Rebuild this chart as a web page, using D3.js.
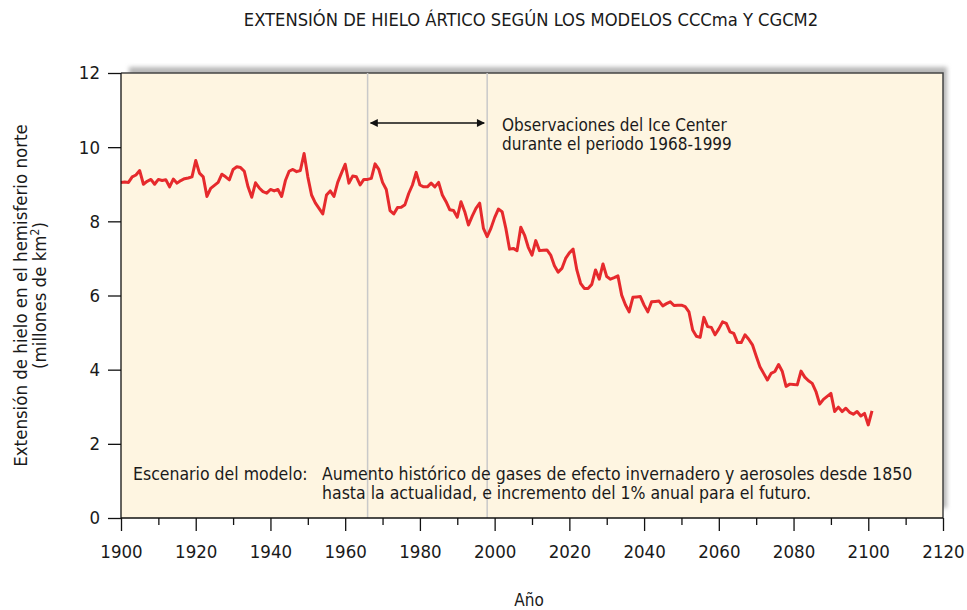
<!DOCTYPE html>
<html>
<head>
<meta charset="utf-8">
<script src="https://cdn.jsdelivr.net/npm/d3@7"></script>
<style>
  body { margin: 0; background: #fff; }
  svg text { font-family: "DejaVu Sans Condensed", "DejaVu Sans", sans-serif; fill: #1a1a1a; }
</style>
</head>
<body>
<svg id="chart" width="967" height="610"></svg>
<script>
// annual values (millones de km2)
var years = d3.range(1900, 2102);
var extent = [
  9.05, 9.06, 9.05, 9.20, 9.25, 9.37, 9.00, 9.08, 9.13, 9.00,
  9.13, 9.10, 9.12, 8.93, 9.14, 9.03, 9.10, 9.15, 9.17, 9.20,
  9.64, 9.30, 9.20, 8.67, 8.89, 8.97, 9.05, 9.27, 9.20, 9.12,
  9.40, 9.47, 9.45, 9.35, 8.93, 8.65, 9.04, 8.90, 8.80, 8.76,
  8.86, 8.82, 8.86, 8.67, 9.10, 9.35, 9.40, 9.34, 9.37, 9.83,
  9.20, 8.71, 8.50, 8.35, 8.20, 8.71, 8.82, 8.67, 9.05, 9.30,
  9.54, 9.03, 9.22, 9.20, 8.98, 9.13, 9.13, 9.16, 9.55, 9.40,
  9.05, 8.86, 8.29, 8.20, 8.37, 8.38, 8.45, 8.75, 8.98, 9.32,
  8.98, 8.93, 8.93, 9.03, 8.93, 9.05, 8.71, 8.53, 8.31, 8.29,
  8.11, 8.53, 8.26, 7.90, 8.14, 8.35, 8.49, 7.81, 7.59, 7.81,
  8.10, 8.33, 8.26, 7.81, 7.25, 7.27, 7.21, 7.84, 7.63, 7.30,
  7.09, 7.48, 7.21, 7.22, 7.23, 7.09, 6.80, 6.63, 6.73, 7.00,
  7.15, 7.25, 6.69, 6.33, 6.19, 6.19, 6.30, 6.69, 6.44, 6.85,
  6.51, 6.44, 6.48, 6.53, 6.01, 5.75, 5.56, 5.95, 5.96, 5.97,
  5.74, 5.56, 5.83, 5.84, 5.85, 5.72, 5.78, 5.83, 5.73, 5.74,
  5.74, 5.70, 5.56, 5.07, 4.90, 4.87, 5.41, 5.16, 5.14, 4.94,
  5.10, 5.29, 5.25, 5.02, 4.98, 4.73, 4.73, 4.94, 4.82, 4.67,
  4.37, 4.08, 3.90, 3.72, 3.90, 3.95, 4.14, 3.95, 3.55, 3.61,
  3.60, 3.59, 3.96, 3.80, 3.70, 3.63, 3.41, 3.07, 3.20, 3.28,
  3.36, 2.87, 2.99, 2.87, 2.96, 2.85, 2.80, 2.87, 2.75, 2.82,
  2.51, 2.89
];
var yearTicks = d3.range(1900, 2121, 20);
var minorTicks = d3.range(1910, 2120, 20);
var valueTicks = [0, 2, 4, 6, 8, 10, 12];
var obsPeriod = [1966, 1998];

(function() {
  'use strict';

  var svg = d3.select("#chart");
  var pLeft = 121, pRight = 943, pTop = 73, pBottom = 518;

  var x = d3.scaleLinear().domain([1900, 2120]).range([pLeft, pRight]);
  var y = d3.scaleLinear().domain([0, 12]).range([pBottom, pTop]);

  var defs = svg.append("defs");
  defs.append("filter")
      .attr("id", "blur")
    .append("feGaussianBlur")
      .attr("stdDeviation", 2);

  // shadow behind the plot box
  svg.append("rect")
      .attr("x", pLeft + 8)
      .attr("y", pTop - 6)
      .attr("width", pRight - pLeft - 4)
      .attr("height", pBottom - pTop - 4)
      .style("fill", "#b8b8b8")
      .attr("filter", "url(#blur)");

  svg.append("rect")
      .attr("x", pLeft)
      .attr("y", pTop)
      .attr("width", pRight - pLeft)
      .attr("height", pBottom - pTop)
      .style("fill", "#fef5e1");

  // frame top and right
  svg.append("path")
      .attr("d", "M" + pLeft + "," + pTop + "H" + pRight + "V" + pBottom)
      .style("fill", "none")
      .style("stroke", "#444")
      .style("stroke-width", 1.5);

  // observation period lines
  svg.selectAll(".obs")
      .data(obsPeriod)
    .enter().append("line")
      .attr("class", "obs")
      .attr("x1", function(d) { return x(d); })
      .attr("x2", function(d) { return x(d); })
      .attr("y1", pTop)
      .attr("y2", pBottom)
      .style("stroke", "#c9c9c9")
      .style("stroke-width", 1.5);

  // arrow
  var marker = defs.append("marker")
      .attr("id", "head")
      .attr("viewBox", "0 0 10 10")
      .attr("refX", 9)
      .attr("refY", 5)
      .attr("markerWidth", 12)
      .attr("markerHeight", 8)
      .attr("markerUnits", "userSpaceOnUse")
      .attr("orient", "auto-start-reverse");
  marker.append("path")
      .attr("d", "M0,0L10,5L0,10Z")
      .style("fill", "#111");

  svg.append("line")
      .attr("x1", x(obsPeriod[0]) + 3)
      .attr("x2", x(obsPeriod[1]) - 3)
      .attr("y1", 123)
      .attr("y2", 123)
      .style("stroke", "#111")
      .style("stroke-width", 1.5)
      .attr("marker-start", "url(#head)")
      .attr("marker-end", "url(#head)");

  svg.append("text")
      .attr("x", 502)
      .attr("y", 131)
      .style("font-size", "17px")
      .text("Observaciones del Ice Center");
  svg.append("text")
      .attr("x", 502)
      .attr("y", 150)
      .style("font-size", "17px")
      .text("durante el periodo 1968-1999");

  // scenario note
  svg.append("text")
      .attr("x", 133)
      .attr("y", 480)
      .style("font-size", "17.5px")
      .text("Escenario del modelo:");
  svg.append("text")
      .attr("x", 322)
      .attr("y", 480)
      .style("font-size", "17.5px")
      .text("Aumento histórico de gases de efecto invernadero y aerosoles desde 1850");
  svg.append("text")
      .attr("x", 322)
      .attr("y", 499)
      .style("font-size", "17.5px")
      .text("hasta la actualidad, e incremento del 1% anual para el futuro.");

  // the series
  var line = d3.line()
      .x(function(d, i) { return x(years[i]); })
      .y(function(d) { return y(d); });

  svg.append("path")
      .datum(extent)
      .attr("d", line)
      .style("fill", "none")
      .style("stroke", "#e62a2d")
      .style("stroke-width", 3)
      .style("stroke-linejoin", "round");

  // axes
  var xAxis = svg.append("g")
      .attr("transform", "translate(0," + pBottom + ")")
      .call(d3.axisBottom(x).tickValues(yearTicks).tickSize(13).tickPadding(14).tickFormat(d3.format("d")));
  var xMinor = svg.append("g")
      .attr("transform", "translate(0," + pBottom + ")")
      .call(d3.axisBottom(x).tickValues(minorTicks).tickSize(7).tickFormat(""));
  xMinor.select(".domain").remove();

  var yAxis = svg.append("g")
      .attr("transform", "translate(" + pLeft + ",0)")
      .call(d3.axisLeft(y).tickValues(valueTicks).tickSize(13).tickPadding(8));

  svg.selectAll(".tick line, .domain")
      .style("stroke", "#111")
      .style("stroke-width", 1.3);
  xAxis.select(".domain").attr("d", "M" + pLeft + ",0H" + pRight);
  yAxis.select(".domain").attr("d", "M0," + pBottom + "V" + pTop);

  svg.selectAll(".tick text")
      .style("font-family", "'DejaVu Sans Condensed', 'DejaVu Sans', sans-serif")
      .style("font-size", "18.5px")
      .style("fill", "#1a1a1a");

  // titles
  svg.append("text")
      .attr("x", 531)
      .attr("y", 26)
      .attr("text-anchor", "middle")
      .style("font-size", "18.2px")
      .text("EXTENSIÓN DE HIELO ÁRTICO SEGÚN LOS MODELOS CCCma Y CGCM2");

  svg.append("text")
      .attr("x", 529)
      .attr("y", 606)
      .attr("text-anchor", "middle")
      .style("font-size", "17px")
      .text("Año");

  var yTitle = svg.append("text")
      .attr("transform", "translate(27," + ((pTop + pBottom) / 2) + ") rotate(-90)")
      .attr("text-anchor", "middle")
      .style("font-size", "18.5px");
  yTitle.append("tspan")
      .attr("x", 0)
      .attr("y", 0)
      .text("Extensión de hielo en el hemisferio norte");
  yTitle.append("tspan")
      .attr("x", 0)
      .attr("dy", 19)
      .text("(millones de km");
  yTitle.append("tspan")
      .attr("dy", -7)
      .style("font-size", "12px")
      .text("2");
  yTitle.append("tspan")
      .attr("dy", 7)
      .text(")");
})();
</script>
</body>
</html>
